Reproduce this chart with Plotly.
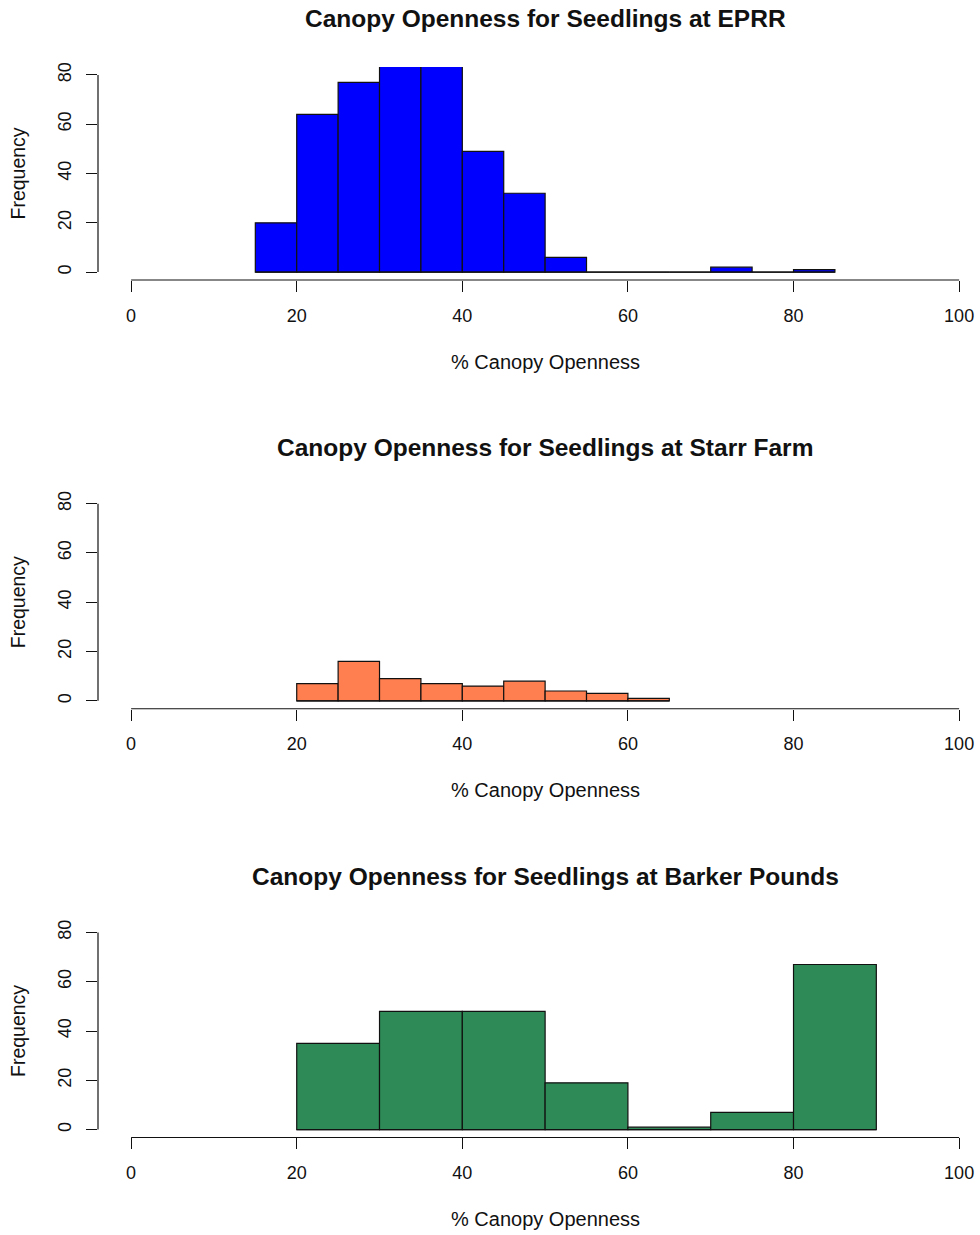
import plotly.graph_objects as go

# Figure size (pixels)
W, H = 980, 1235

# --- Data: histogram bin edges and counts per site ---
eprr_edges = [15, 20, 25, 30, 35, 40, 45, 50, 55, 60, 65, 70, 75, 80, 85]
eprr_counts = [20, 64, 77, 86, 85, 49, 32, 6, 0, 0, 0, 2, 0, 1]

starr_edges = [20, 25, 30, 35, 40, 45, 50, 55, 60, 65]
starr_counts = [7, 16, 9, 7, 6, 8, 4, 3, 1]

barker_edges = [20, 30, 40, 50, 60, 70, 80, 90]
barker_counts = [35, 48, 48, 19, 1, 7, 67]

titles = [
    "Canopy Openness for Seedlings at EPRR",
    "Canopy Openness for Seedlings at Starr Farm",
    "Canopy Openness for Seedlings at Barker Pounds",
]
colors = ["#0000FF", "#FF7F50", "#2E8B57"]
x_ticks = [0, 20, 40, 60, 80, 100]
y_ticks = [0, 20, 40, 60, 80]
x_label = "% Canopy Openness"
y_label = "Frequency"

panels = [
    (eprr_edges, eprr_counts),
    (starr_edges, starr_counts),
    (barker_edges, barker_counts),
]

FONT = "Liberation Sans, Arial, sans-serif"
INK = "#111111"

# Layout geometry in pixels
panel_step = 430.5        # vertical distance between panels
plot_top = 62.3           # top of first plot region
plot_bottom = 276.1       # bottom of first plot region
left_px = 98              # left edge of plot region


def py(px):
    """Convert a pixel row (from top) to paper y."""
    return 1 - px / H


fig = go.Figure()
layout = dict(
    width=W,
    height=H,
    margin=dict(l=0, r=0, t=0, b=0),
    paper_bgcolor="white",
    plot_bgcolor="white",
    showlegend=False,
    font=dict(family=FONT, color=INK),
)
shapes = []
annotations = []

for i, ((edges, counts), title, color) in enumerate(zip(panels, titles, colors)):
    n = i + 1
    xa = "x" if n == 1 else f"x{n}"
    ya = "y" if n == 1 else f"y{n}"
    off = i * panel_step

    lefts = edges[:-1]
    widths = [b - a for a, b in zip(edges[:-1], edges[1:])]

    fig.add_trace(go.Bar(
        x=lefts, y=counts, width=widths, offset=0,
        marker=dict(color=color, line=dict(color=INK, width=1.2)),
        xaxis=xa, yaxis=ya, hoverinfo="x+y",
    ))
    # outline of empty bins along the baseline
    fig.add_trace(go.Scatter(
        x=[edges[0], edges[-1]], y=[0, 0], mode="lines",
        line=dict(color=INK, width=1.2),
        xaxis=xa, yaxis=ya, hoverinfo="skip",
    ))

    dom = [py(plot_bottom + off), py(plot_top + off)]
    layout["xaxis" if n == 1 else f"xaxis{n}"] = dict(
        domain=[left_px / W, 1.0],
        range=[-4, -4 + (W - left_px) / 8.28],
        anchor=ya,
        tickvals=x_ticks,
        ticks="outside", ticklen=11, tickwidth=1.2, tickcolor=INK,
        showline=False, showgrid=False, zeroline=False,
        tickfont=dict(size=18, family=FONT, color=INK),
        ticklabelstandoff=8,
        fixedrange=True,
    )
    layout["yaxis" if n == 1 else f"yaxis{n}"] = dict(
        domain=dom,
        range=[-3.2, 83.2],
        anchor=xa,
        tickvals=y_ticks,
        tickangle=-90,
        ticks="outside", ticklen=11, tickwidth=1.2, tickcolor=INK,
        showline=False, showgrid=False, zeroline=False,
        tickfont=dict(size=18, family=FONT, color=INK),
        ticklabelstandoff=8,
        fixedrange=True,
    )

    # axis lines spanning only the tick range
    shapes.append(dict(
        type="line", xref=xa, yref=f"{ya} domain",
        x0=x_ticks[0], x1=x_ticks[-1], y0=0, y1=0,
        line=dict(color=INK, width=1.2),
    ))
    shapes.append(dict(
        type="line", xref=f"{xa} domain", yref=ya,
        x0=0, x1=0, y0=y_ticks[0], y1=y_ticks[-1],
        line=dict(color=INK, width=1.2),
    ))

    annotations.append(dict(
        text=title, xref=xa, x=50, yref="paper", y=py(14 + off),
        xanchor="center", yanchor="middle", showarrow=False,
        font=dict(size=24.5, family=FONT, color=INK, weight="bold"),
    ))
    annotations.append(dict(
        text=x_label, xref=xa, x=50, yref="paper", y=py(358 + off),
        xanchor="center", yanchor="middle", showarrow=False,
        font=dict(size=20, family=FONT, color=INK),
    ))
    annotations.append(dict(
        text=y_label, xref="paper", x=18 / W, yref="paper",
        y=py((plot_top + plot_bottom) / 2 + off),
        xanchor="center", yanchor="middle", showarrow=False, textangle=-90,
        font=dict(size=19.5, family=FONT, color=INK),
    ))

layout["shapes"] = shapes
layout["annotations"] = annotations
fig.update_layout(**layout)

fig.write_html("out.html")
